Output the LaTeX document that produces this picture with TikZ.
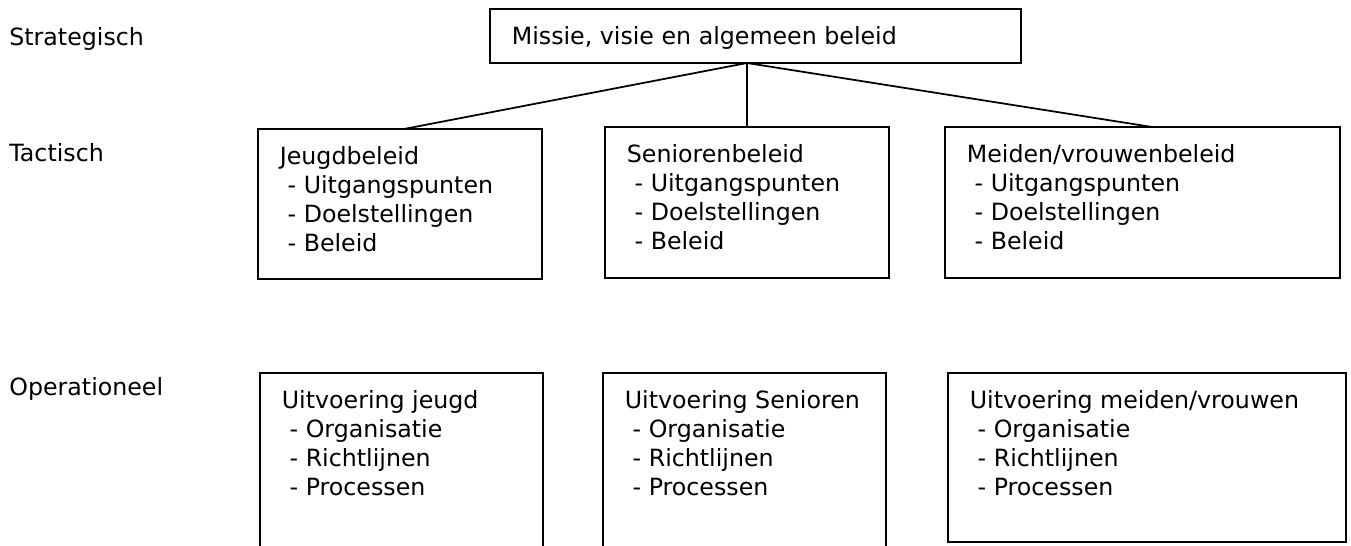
\documentclass[tikz,border=0pt]{standalone}
\usepackage{fontspec}
\setmainfont{DejaVu Sans}
\usepackage{tikz}
\usetikzlibrary{calc}
\usetikzlibrary{fit}
\usetikzlibrary{positioning}
\tikzset{vak/.style={draw, line width=1.1pt, inner sep=0pt, outer sep=0pt},
            tekst/.style={inner sep=0pt, anchor=north west, align=left,
                font=\fontsize{13.5}{16.5}\selectfont},
            niveau/.style={inner sep=0pt, anchor=base west,
                font=\fontsize{13.5}{16.5}\selectfont},
            lijn/.style={line width=1pt}}
\newcommand{\punt}[1]{\hspace*{.33em}- #1}
\begin{document}
\begin{tikzpicture}[x=0.02cm, y=-0.02cm]
            \useasboundingbox (0,0) rectangle (1351,546);
            \clip (0,0) rectangle (1351,546);
            \node[niveau] (strat) at (9,45.5) {Strategisch};
            \node[niveau] (tact) at (9,162) {Tactisch};
            \node[niveau] (oper) at (9,395.5) {Operationeel};
            \node[vak, fit={(490,9) (1021,63)}] (mv) {};
            \node[vak, fit={(258,129) (542,279)}] (jb) {};
            \node[vak, fit={(605,127) (889,278)}] (sb) {};
            \node[vak, fit={(945,127) (1340,278)}] (mb) {};
            \node[vak, fit={(260,373) (543,570)}] (ju) {};
            \node[vak, fit={(603,373) (886,570)}] (su) {};
            \node[vak, fit={(948,373) (1346,542)}] (mu) {};
            \node[tekst] (mvt) at ($(mv.north west)+(21.5,14.7)$) {\strut Missie, visie en algemeen beleid};
            \node[tekst] (jbt) at ($(jb.north west)+(21.5,14.7)$) {\strut Jeugdbeleid\\
                \punt{Uitgangspunten}\\ \punt{Doelstellingen}\\ \punt{Beleid}};
            \node[tekst] (sbt) at ($(sb.north west)+(21.5,14.7)$) {\strut Seniorenbeleid\\
                \punt{Uitgangspunten}\\ \punt{Doelstellingen}\\ \punt{Beleid}};
            \node[tekst] (mbt) at ($(mb.north west)+(21.5,14.7)$) {\strut Meiden/vrouwenbeleid\\
                \punt{Uitgangspunten}\\ \punt{Doelstellingen}\\ \punt{Beleid}};
            \node[tekst] (jut) at ($(ju.north west)+(21.5,14.7)$) {\strut Uitvoering jeugd\\
                \punt{Organisatie}\\ \punt{Richtlijnen}\\ \punt{Processen}};
            \node[tekst] (sut) at ($(su.north west)+(21.5,14.7)$) {\strut Uitvoering Senioren\\
                \punt{Organisatie}\\ \punt{Richtlijnen}\\ \punt{Processen}};
            \node[tekst] (mut) at ($(mu.north west)+(21.5,14.7)$) {\strut Uitvoering meiden/vrouwen\\
                \punt{Organisatie}\\ \punt{Richtlijnen}\\ \punt{Processen}};
            \coordinate (top) at ($(mv.south)+(-8.5,0)$);
            \draw[lijn] (top) -- ($(jb.north)+(4,0)$);
            \draw[lijn] (top) -- (sb.north);
            \draw[lijn] (top) -- ($(mb.north)+(9.5,0)$);
            \draw[lijn] ($(jb.south)+(4,0)$) -- ($(jb.south)+(4,0)$ |- ju.north);
            \draw[lijn] ($(sb.south)+(3,0)$) -- ($(sb.south)+(3,0)$ |- su.north);
            \draw[lijn] ($(mb.south)+(5.5,0)$) -- ($(mb.south)+(5.5,0)$ |- mu.north);
        \end{tikzpicture}
\end{document}
